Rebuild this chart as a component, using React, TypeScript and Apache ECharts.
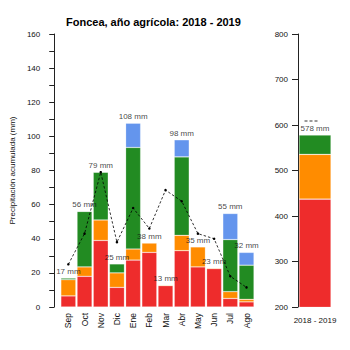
import React, { useEffect, useRef } from "react";
import * as echarts from "echarts";

const months = ["Sep", "Oct", "Nov", "Dic", "Ene", "Feb", "Mar", "Abr", "May", "Jun", "Jul", "Ago"];
const redVals = [6.5, 18, 39, 11.5, 27.5, 32, 12.5, 33, 23.5, 22.5, 5, 3];
const orangeVals = [9.5, 5.5, 12, 8.5, 6.5, 5.5, 0.5, 9, 11.8, 0.5, 4, 1.5];
const greenVals = [1, 32.5, 28, 5.3, 59.5, 0.3, 0, 46, 0, 0, 30.5, 20];
const blueVals = [0, 0, 0, 0, 14.2, 0, 0, 10, 0, 0, 15.3, 7.5];
const meanVals = [25, 43, 79, 38, 58, 46, 68.5, 62, 43, 40, 18, 11.5];

const yearLabel = ["2018 - 2019"];
const yearRed = [437];
const yearOrange = [98.5];
const yearGreen = [42.5];
const yearMean = [609];

const leftTicks = { min: 0, max: 160, step: 10 };
const rightTicks = { min: 200, max: 800, step: 100 };

const RED = "#EE2C2C";
const ORANGE = "#FF8C00";
const GREEN = "#228B22";
const BLUE = "#6495ED";
const FONT = "'Liberation Sans Narrow', 'Liberation Sans', Arial, sans-serif";

export default function App() {
  const ref = useRef<HTMLDivElement>(null);
  useEffect(() => {
    if (!ref.current) return;
    const chart = echarts.init(ref.current, null, { renderer: "svg" });
    const totals = months.map((_, i) => redVals[i] + orangeVals[i] + greenVals[i] + blueVals[i]);
    const yearTotal = yearLabel.map((_, i) => yearRed[i] + yearOrange[i] + yearGreen[i]);
    const labelStyle = {
      show: true,
      position: "top" as const,
      distance: 2,
      fontSize: 8,
      fontFamily: FONT,
      color: "#111",
      formatter: (p: any) => Math.round(p.value) + " mm",
    };
    const bar = (name: string, data: number[], color: string, idx: number, stack: string, w: number) => ({
      name,
      type: "bar",
      stack,
      data,
      xAxisIndex: idx,
      yAxisIndex: idx,
      barWidth: w,
      itemStyle: { color, borderColor: "rgba(255,255,255,0.35)", borderWidth: 0.6 },
    });
    chart.setOption({
      animation: false,
      textStyle: { fontFamily: FONT },
      title: {
        text: "Foncea, año agrícola: 2018 - 2019",
        left: 61,
        top: 11,
        textStyle: { fontSize: 11, fontWeight: "bold", color: "#000", fontFamily: FONT },
      },
      grid: [
        { left: 41, top: 34, width: 213.6, height: 273 },
        { left: 298, top: 34, width: 34, height: 273 },
      ],
      xAxis: [
        {
          type: "category",
          gridIndex: 0,
          data: months,
          axisLine: { show: false },
          axisTick: { show: false },
          axisLabel: { rotate: 90, margin: 6, fontSize: 8.5, color: "#111", fontFamily: FONT },
        },
        {
          type: "category",
          gridIndex: 1,
          data: yearLabel,
          axisLine: { show: false },
          axisTick: { show: false },
          axisLabel: { margin: 9, fontSize: 8, color: "#111", fontFamily: FONT },
        },
      ],
      yAxis: [
        {
          type: "value",
          gridIndex: 0,
          min: leftTicks.min,
          max: leftTicks.max,
          interval: leftTicks.step,
          offset: 6,
          name: "Precipitación acumulada (mm)",
          nameLocation: "middle",
          nameGap: 27,
          nameTextStyle: { fontSize: 8, color: "#111", fontFamily: FONT },
          axisLine: { show: true, lineStyle: { color: "#222", width: 1 } },
          axisTick: { show: true, length: 5, lineStyle: { color: "#222" } },
          axisLabel: {
            margin: 14,
            fontSize: 8,
            color: "#111",
            fontFamily: FONT,
            formatter: (v: number) => (v % 20 === 0 ? String(v) : ""),
          },
          splitLine: { show: false },
        },
        {
          type: "value",
          gridIndex: 1,
          min: rightTicks.min,
          max: rightTicks.max,
          interval: rightTicks.step,
          axisLine: { show: true, lineStyle: { color: "#222", width: 1 } },
          axisTick: { show: true, length: 6, lineStyle: { color: "#222" } },
          axisLabel: { margin: 10, fontSize: 8, color: "#111", fontFamily: FONT },
          splitLine: { show: false },
        },
      ],
      series: [
        bar("red", redVals, RED, 0, "m", 15),
        bar("orange", orangeVals, ORANGE, 0, "m", 15),
        bar("green", greenVals, GREEN, 0, "m", 15),
        bar("blue", blueVals, BLUE, 0, "m", 15),
        {
          name: "totals",
          type: "scatter",
          data: totals,
          xAxisIndex: 0,
          yAxisIndex: 0,
          symbolSize: 1,
          itemStyle: { color: "rgba(0,0,0,0)" },
          label: labelStyle,
          z: 5,
        },
        {
          name: "mean",
          type: "line",
          data: meanVals,
          xAxisIndex: 0,
          yAxisIndex: 0,
          symbol: "circle",
          symbolSize: 2.5,
          itemStyle: { color: "#000" },
          lineStyle: { color: "#000", width: 0.8, type: [2.5, 2] },
          z: 6,
        },
        bar("red", yearRed, RED, 1, "y", 32),
        bar("orange", yearOrange, ORANGE, 1, "y", 32),
        bar("green", yearGreen, GREEN, 1, "y", 32),
        {
          name: "yearTotal",
          type: "scatter",
          data: yearTotal,
          xAxisIndex: 1,
          yAxisIndex: 1,
          symbolSize: 1,
          itemStyle: { color: "rgba(0,0,0,0)" },
          label: labelStyle,
          z: 5,
        },
        {
          name: "yearMean",
          type: "scatter",
          data: yearMean,
          xAxisIndex: 1,
          yAxisIndex: 1,
          symbol: "path://M0 0H3V1H0Z M5 0H8V1H5Z M10 0H13V1H10Z",
          symbolSize: [13, 1],
          symbolOffset: [-4, 0],
          itemStyle: { color: "#000" },
          z: 6,
        },
      ],
    });
    return () => chart.dispose();
  }, []);
  return (
    <div
      ref={ref}
      style={{ position: "fixed", left: 0, top: 0, width: 350, height: 350, background: "#fff" }}
    />
  );
}
